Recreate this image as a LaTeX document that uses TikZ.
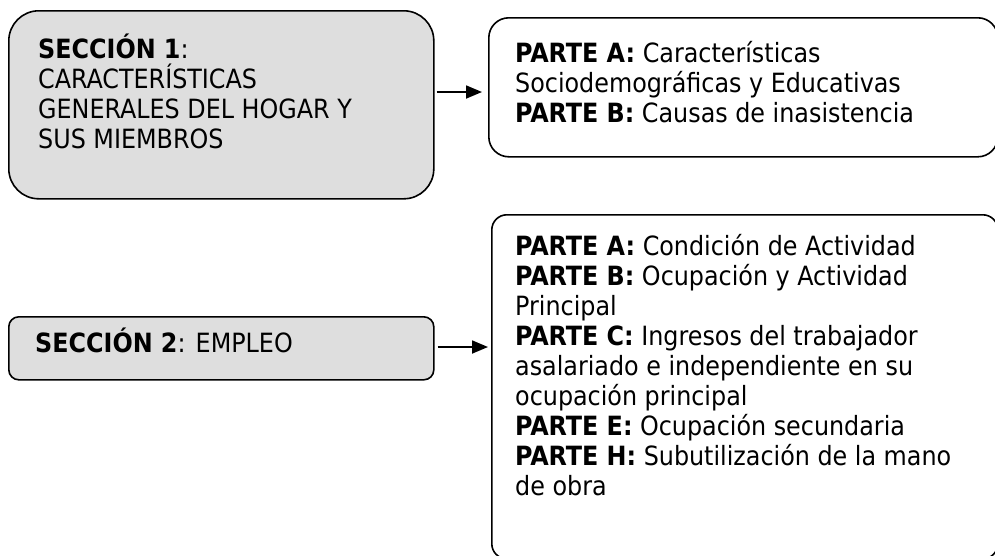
\documentclass[tikz,border=0pt]{standalone}
\usepackage{fontspec}
\setmainfont{DejaVu Sans Condensed}
\usetikzlibrary{arrows.meta,calc}
\definecolor{boxgray}{RGB}{222,222,222}
\begin{document}
\begin{tikzpicture}[x=1pt,y=-1pt,
  box/.style={draw=black, line width=1.6pt, inner sep=0pt, anchor=north west},
  gbox/.style={box, fill=boxgray},
  txt/.style={anchor=base west, inner sep=0pt, font=\fontsize{26.5}{30}\selectfont},
  conn/.style={line width=1.8pt, -{Triangle[length=16pt,width=13pt]}}]
\useasboundingbox (0,0) rectangle (995,555);
% boxes
\node[gbox, minimum width=425pt, minimum height=188pt, rounded corners=30pt] (s1) at (8,10) {};
\node[box, minimum width=509pt, minimum height=139pt, rounded corners=20pt] (p1) at (488,17) {};
\node[gbox, minimum width=425pt, minimum height=63pt, rounded corners=10pt] (s2) at (8,316) {};
\node[box, minimum width=506pt, minimum height=344pt, rounded corners=15pt] (p2) at (491,214) {};
% box 1 text
\node[txt] (s1a) at (38,58) {\textbf{SECCIÓN 1}:};
\node[txt] (s1b) at (38,88) {CARACTERÍSTICAS};
\node[txt] (s1c) at (38,118) {GENERALES DEL HOGAR Y};
\node[txt] (s1d) at (38,148) {SUS MIEMBROS};
% box 2 text
\node[txt] (p1a) at (515,62) {\textbf{PARTE A:} Características};
\node[txt] (p1b) at (515,92) {Sociodemográficas y Educativas};
\node[txt] (p1c) at (515,122) {\textbf{PARTE B:} Causas de inasistencia};
% box 3 text
\node[txt] (s2a) at (35,352) {\textbf{SECCIÓN 2}: EMPLEO};
% box 4 text
\node[txt] (p2a) at (515,255) {\textbf{PARTE A:} Condición de Actividad};
\node[txt] (p2b) at (515,285) {\textbf{PARTE B:} Ocupación y Actividad};
\node[txt] (p2c) at (515,315) {Principal};
\node[txt] (p2d) at (515,345) {\textbf{PARTE C:} Ingresos del trabajador};
\node[txt] (p2e) at (515,375) {asalariado e independiente en su};
\node[txt] (p2f) at (515,405) {ocupación principal};
\node[txt] (p2g) at (515,435) {\textbf{PARTE E:} Ocupación secundaria};
\node[txt] (p2h) at (515,465) {\textbf{PARTE H:} Subutilización de la mano};
\node[txt] (p2i) at (515,495) {de obra};
% connectors
\draw[conn] ($(s1.east |- 0,92)+(2,0)$) -- ($(p1.west |- 0,92)+(-6,0)$);
\draw[conn] ($(s2.east |- 0,347)+(3,0)$) -- ($(p2.west |- 0,347)+(-3,0)$);
\end{tikzpicture}
\end{document}
